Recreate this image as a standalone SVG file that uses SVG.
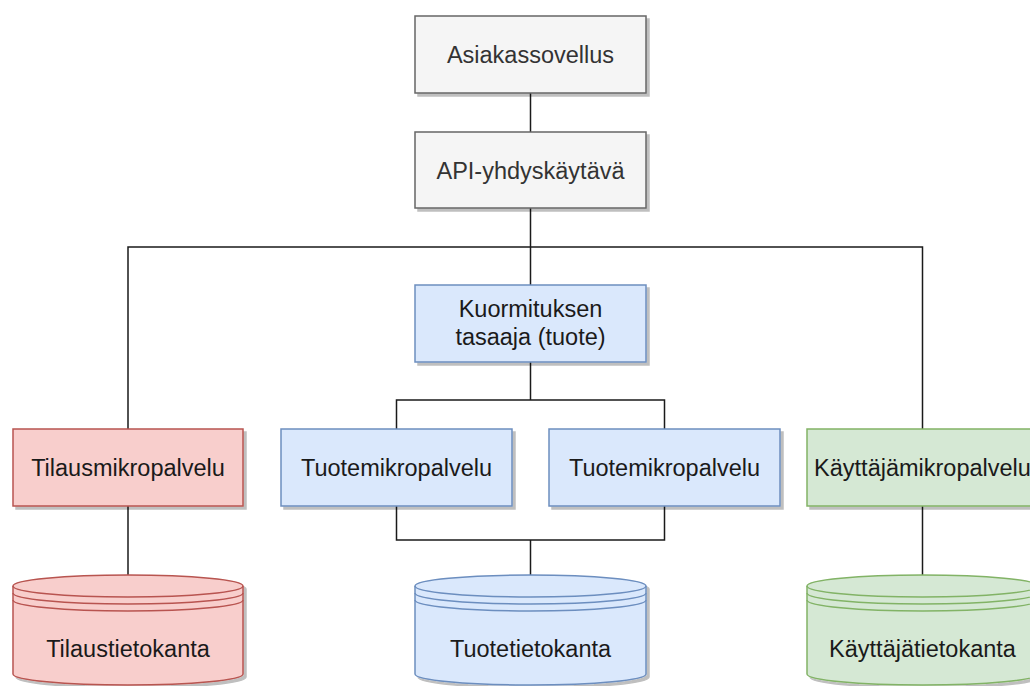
<svg xmlns="http://www.w3.org/2000/svg" width="1030" height="686" viewBox="0 0 1030 686">
<defs>
<filter id="sh" x="-5%" y="-5%" width="115%" height="120%">
<feDropShadow dx="3" dy="3" stdDeviation="0.6" flood-color="#000" flood-opacity="0.25"/>
</filter>
</defs>
<style>
.box{stroke-width:1.5;filter:url(#sh)}
.gray{fill:#f5f5f5;stroke:#666666}
.red{fill:#f8cecc;stroke:#b85450}
.blue{fill:#dae8fc;stroke:#6c8ebf}
.green{fill:#d5e8d4;stroke:#82b366}
.ln{fill:none;stroke-width:1.5}
.lred{stroke:#b85450}.lblue{stroke:#6c8ebf}.lgreen{stroke:#82b366}
text{font-family:"Liberation Sans",Arial,sans-serif;font-size:23.5px;text-anchor:middle;fill:#1a1a1a}
.tg{fill:#333333}
.conn{fill:none;stroke:#1a1a1a;stroke-width:1.5}
</style>
<g id="connectors">
<path class="conn" d="M530.5 93 V132"/>
<path class="conn" d="M530.5 208 V285"/>
<path class="conn" d="M128 429 V247 H922.5 V429"/>
<path class="conn" d="M530.5 362 V400"/>
<path class="conn" d="M396.5 429 V400 H664.5 V429"/>
<path class="conn" d="M396.5 506 V540 H664.5 V506"/>
<path class="conn" d="M530.5 540 V575"/>
<path class="conn" d="M128 506 V575"/>
<path class="conn" d="M922.5 506 V575"/>
</g>
<g id="asiakassovellus">
<rect class="box gray" x="415" y="16" width="231" height="77"/>
<text class="tg" x="530.5" y="63">Asiakassovellus</text>
</g>
<g id="api-gateway">
<rect class="box gray" x="415" y="132" width="231" height="76"/>
<text class="tg" x="530.5" y="178.5">API-yhdyskäytävä</text>
</g>
<g id="kuormituksen-tasaaja">
<rect class="box blue" x="415" y="285" width="231" height="77"/>
<text x="530.5" y="317">Kuormituksen</text>
<text x="530.5" y="345">tasaaja (tuote)</text>
</g>
<g id="tilausmikropalvelu">
<rect class="box red" x="13" y="429" width="230" height="77"/>
<text x="128" y="476">Tilausmikropalvelu</text>
</g>
<g id="tuotemikropalvelu-1">
<rect class="box blue" x="281" y="429" width="231" height="77"/>
<text x="396.5" y="476">Tuotemikropalvelu</text>
</g>
<g id="tuotemikropalvelu-2">
<rect class="box blue" x="549" y="429" width="231" height="77"/>
<text x="664.5" y="476">Tuotemikropalvelu</text>
</g>
<g id="kayttajamikropalvelu">
<rect class="box green" x="807" y="429" width="231" height="77"/>
<text x="922.5" y="476">Käyttäjämikropalvelu</text>
</g>
<g id="tilaustietokanta">
<path class="box red" d="M13 586 a115 11 0 0 1 230 0 V674 a115 11 0 0 1 -230 0 Z"/>
<path class="ln lred" d="M13 586 a115 11 0 0 0 230 0 M13 593 a115 11 0 0 0 230 0 M13 600 a115 11 0 0 0 230 0"/>
<text x="128" y="657">Tilaustietokanta</text>
</g>
<g id="tuotetietokanta">
<path class="box blue" d="M415 586 a115.5 11 0 0 1 231 0 V674 a115.5 11 0 0 1 -231 0 Z"/>
<path class="ln lblue" d="M415 586 a115.5 11 0 0 0 231 0 M415 593 a115.5 11 0 0 0 231 0 M415 600 a115.5 11 0 0 0 231 0"/>
<text x="530.5" y="657">Tuotetietokanta</text>
</g>
<g id="kayttajatietokanta">
<path class="box green" d="M807 586 a115.5 11 0 0 1 231 0 V674 a115.5 11 0 0 1 -231 0 Z"/>
<path class="ln lgreen" d="M807 586 a115.5 11 0 0 0 231 0 M807 593 a115.5 11 0 0 0 231 0 M807 600 a115.5 11 0 0 0 231 0"/>
<text x="922.5" y="657">Käyttäjätietokanta</text>
</g>
</svg>
